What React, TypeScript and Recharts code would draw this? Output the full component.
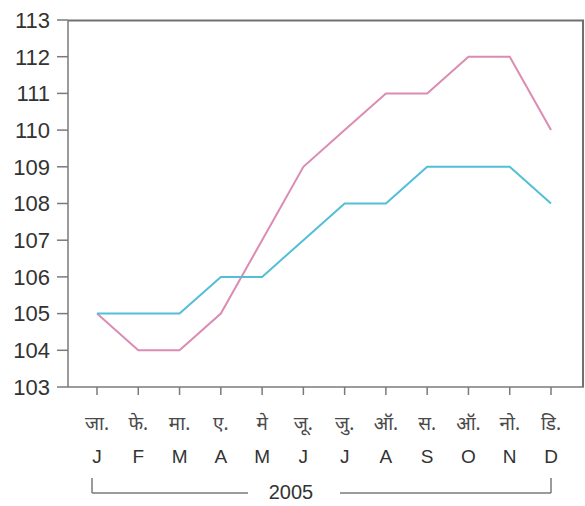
import React from "react";
import * as R from "recharts";
import { LineChart, Line, XAxis, YAxis } from "recharts";

const monthsHi = ["जा.", "फे.", "मा.", "ए.", "मे", "जू.", "जु.", "ऑ.", "स.", "ऑ.", "नो.", "डि."];
const monthsEn = ["J", "F", "M", "A", "M", "J", "J", "A", "S", "O", "N", "D"];
const pinkSeries = [105, 104, 104, 105, 107, 109, 110, 111, 111, 112, 112, 110];
const blueSeries = [105, 105, 105, 106, 106, 107, 108, 108, 109, 109, 109, 108];
const yTicks = [103, 104, 105, 106, 107, 108, 109, 110, 111, 112, 113];
const yearLabel = "2005";

const data = monthsEn.map((m, i) => ({
  idx: i,
  pink: pinkSeries[i],
  blue: blueSeries[i],
}));

const AXIS = "#7a7a7a";
const TEXT = "#333333";
const FONT = "'Liberation Sans', Arial, sans-serif";

const MonthTick = (props: any) => {
  const { x, y, payload } = props;
  const i = payload.value;
  return (
    <g>
      <text x={x} y={y + 31} textAnchor="middle" fontSize={19} fill="#4a4a4a" fontFamily="'Noto Sans', 'Noto Sans Devanagari', 'DejaVu Sans', sans-serif">
        {monthsHi[i]}
      </text>
      <text x={x} y={y + 64} textAnchor="middle" fontSize={19} fill={TEXT} fontFamily={FONT}>
        {monthsEn[i]}
      </text>
    </g>
  );
};

const YearBracket = (props: any) => {
  const { viewBox } = props;
  const left = viewBox.x + 24;
  const right = viewBox.x + viewBox.width - 33;
  const yy = 493;
  const mid = 291;
  return (
    <g>
      <line x1={left} y1={yy - 15} x2={left} y2={yy} stroke={AXIS} strokeWidth={1.5} />
      <line x1={left} y1={yy} x2={mid - 43} y2={yy} stroke={AXIS} strokeWidth={1.5} />
      <line x1={mid + 49} y1={yy} x2={right} y2={yy} stroke={AXIS} strokeWidth={1.5} />
      <line x1={right} y1={yy - 15} x2={right} y2={yy} stroke={AXIS} strokeWidth={1.5} />
      <text x={mid} y={yy + 6} textAnchor="middle" fontSize={20} fill={TEXT} fontFamily={FONT}>
        {yearLabel}
      </text>
    </g>
  );
};

const usePlot: any = (R as any).usePlotArea || (() => null);

const PlotBorder = () => {
  const area = usePlot();
  if (!area) return null;
  const r = area.x + area.width - 1;
  const t = area.y + 0.5;
  return (
    <path
      d={`M${area.x},${t} L${r},${t} L${r},${area.y + area.height}`}
      fill="none"
      stroke="#707070"
      strokeWidth={2}
    />
  );
};

export default function App() {
  return (
    <div style={{ position: "absolute", left: 0, top: 0, background: "#fff" }}>
      <LineChart width={585} height={506} data={data} margin={{ top: 20, right: 1, bottom: 0, left: 0 }}>
        <XAxis
          dataKey="idx"
          type="category"
          padding={{ left: 29, right: 33 }}
          stroke={AXIS}
          strokeWidth={1.5}
          tickSize={8}
          tickMargin={4}
          tick={<MonthTick />}
          interval={0}
          height={119}
          label={<YearBracket />}
        />
        <YAxis
          domain={[103, 113]}
          ticks={yTicks}
          width={68}
          stroke={AXIS}
          strokeWidth={1.5}
          tickSize={11}
          tickMargin={7}
          interval={0}
          tick={{ fill: TEXT, fontSize: 22, fontFamily: FONT }}
        />
        <PlotBorder />
        <Line type="linear" dataKey="pink" stroke="#dc8cb2" strokeWidth={2} dot={false} isAnimationActive={false} />
        <Line type="linear" dataKey="blue" stroke="#52bfd6" strokeWidth={2} dot={false} isAnimationActive={false} />
      </LineChart>
    </div>
  );
}
